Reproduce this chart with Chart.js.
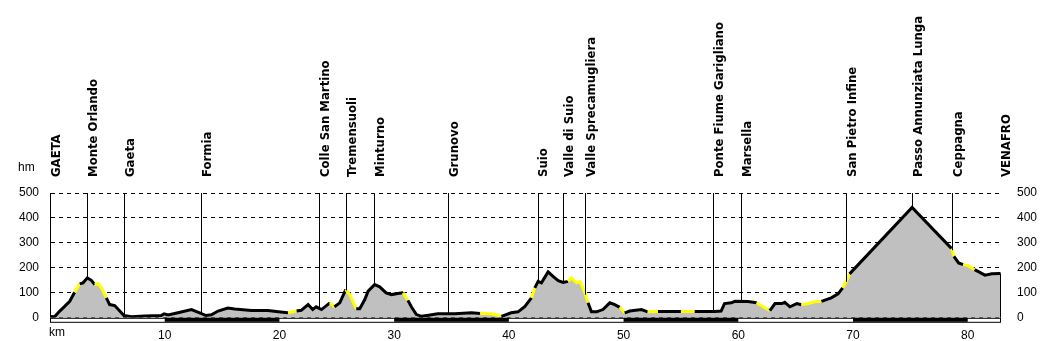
<!DOCTYPE html>
<html>
<head>
<meta charset="utf-8">
<script src="https://cdn.jsdelivr.net/npm/chart.js@4"></script>
<style>
  html, body { margin: 0; padding: 0; background: #fff; }
  #wrap { width: 1050px; height: 341px; }
</style>
</head>
<body>
<div id="wrap"><canvas id="profile" width="1050" height="341"></canvas></div>
<script>
// profile points: distance (km) and altitude (m)
const km = [0.0, 0.4, 0.85, 1.28, 1.72, 2.15, 2.59, 2.88, 3.26, 3.6, 3.9, 4.19, 4.54, 4.91, 5.2, 5.64, 6.08, 6.45,
  7.1, 8.26, 9.7, 9.94, 10.3, 11.16, 12.33, 13.05, 13.6, 14.07, 14.65, 15.5, 16.1, 17.56, 19.0, 19.9, 20.75,
  21.5, 21.9, 22.5, 22.9, 23.2, 23.66, 24.4, 24.8, 25.26, 25.78, 26.13, 26.7, 27.0, 27.44, 27.73, 28.3, 28.74,
  29.3, 29.77, 30.3, 30.78, 31.2, 31.5, 31.94, 32.4, 33.0, 33.8, 35.3, 36.74, 37.5, 38.5, 39.35, 40.2, 40.8,
  41.4, 41.97, 42.26, 42.55, 42.84, 43.42, 43.85, 44.3, 44.73, 45.16, 45.46, 45.9, 46.2, 46.63, 46.9, 47.2,
  47.64, 48.2, 48.8, 49.23, 49.67, 50.1, 50.54, 51.56, 52.1, 53.0, 55.0, 56.2, 57.96, 58.5, 58.8, 59.4, 59.7,
  60.85, 61.6, 62.16, 62.75, 63.2, 63.8, 64.05, 64.5, 65.1, 65.5, 66.1, 66.67, 67.25, 68.1, 68.7, 69.1, 69.4,
  69.7, 75.15, 78.6, 78.8, 79.2, 79.6, 80.03, 80.6, 81.5, 82.1, 82.86];
const alt = [5, 4, 27, 46, 66, 102, 136, 140, 160, 150, 133, 137, 116, 80, 53, 49, 27, 9,
  4, 7, 9, 16, 11, 20, 33, 20, 9, 12, 27, 39, 35, 29, 29, 24, 20,
  27, 30, 53, 33, 44, 33, 60, 44, 60, 113, 93, 36, 36, 73, 107, 133, 124,
  100, 93, 97, 100, 70, 44, 13, 6, 10, 16, 16, 20, 17, 16, 6, 20, 24,
  46, 80, 120, 146, 140, 184, 166, 149, 142, 146, 160, 140, 145, 100, 60, 24,
  24, 33, 60, 53, 42, 20, 27, 33, 24, 25, 25, 25, 25, 27, 57, 60, 66,
  65, 60, 44, 29, 57, 57, 62, 44, 57, 52, 57, 64, 66, 80, 96, 120, 144,
  176, 442, 277, 246, 220, 213, 209, 193, 171, 176, 177];

// steep stretches (km from, km to) drawn yellow
const steepFrom = [2.0, 3.9, 20.6, 24.5, 25.9, 30.7, 37.3, 37.9, 38.5, 41.97, 45.3, 49.67, 51.85, 55.5, 61.7, 65.7, 69.1, 78.6, 79.6];
const steepTo   = [2.6, 5.0, 21.5, 25.0, 26.6, 31.3, 37.6, 38.2, 39.2, 42.4, 47.0, 50.25, 53.0, 56.65, 62.9, 67.25, 69.7, 78.9, 80.6];

// places along the route
const places = ['GAETA', 'Monte Orlando', 'Gaeta', 'Formia', 'Colle San Martino', 'Tremensuoli', 'Minturno',
  'Grunovo', 'Suio', 'Valle di Suio', 'Valle Sprecamugliera', 'Ponte Fiume Garigliano', 'Marsella',
  'San Pietro Infine', 'Passo Annunziata Lunga', 'Ceppagna', 'VENAFRO'];
const placeKm = [0, 3.26, 6.45, 13.17, 23.45, 25.84, 28.25, 34.7, 42.5, 44.73, 46.68, 57.8, 60.24, 69.4, 75.15, 78.64, 82.86];

const xTicks = [0, 10, 20, 30, 40, 50, 60, 70, 80];
const yTicks = [0, 100, 200, 300, 400, 500];

const KM_MAX = 82.9;
const tickFont = { family: 'Liberation Sans, Arial, sans-serif', size: 12 };

function altAt(d) {
  for (let i = 1; i < km.length; i++) {
    if (d <= km[i]) {
      const t = (d - km[i - 1]) / (km[i] - km[i - 1]);
      return alt[i - 1] + t * (alt[i] - alt[i - 1]);
    }
  }
  return alt[alt.length - 1];
}

function isSteep(a, b) {
  const mid = (a + b) / 2;
  for (let i = 0; i < steepFrom.length; i++) {
    if (mid >= steepFrom[i] && mid <= steepTo[i]) return true;
  }
  return false;
}

const points = km.map((d, i) => ({ x: d, y: alt[i] }));

const decor = {
  id: 'decor',
  afterDatasetsDraw(chart) {
    const { ctx, chartArea: a, scales: { x, y } } = chart;
    ctx.save();
    // place lines
    ctx.strokeStyle = '#000';
    ctx.lineWidth = 1;
    for (let i = 1; i < places.length - 1; i++) {
      const px = Math.round(x.getPixelForValue(placeKm[i])) + 0.5;
      ctx.beginPath();
      ctx.moveTo(px, a.top);
      ctx.lineTo(px, y.getPixelForValue(altAt(placeKm[i])));
      ctx.stroke();
    }
    // right edge of the profile
    const rx = Math.round(x.getPixelForValue(km[km.length - 1])) - 0.5;
    ctx.beginPath();
    ctx.moveTo(rx, y.getPixelForValue(alt[alt.length - 1]));
    ctx.lineTo(rx, y.getPixelForValue(0));
    ctx.stroke();

    // km band
    const by = a.bottom;
    const bh = 4;
    ctx.fillStyle = '#fff';
    ctx.fillRect(a.left, by, a.right - a.left, bh);
    ctx.fillStyle = '#000';
    for (let i = 0; i < xTicks.length; i++) {
      if (i % 2 === 1) {
        const x0 = x.getPixelForValue(xTicks[i]);
        const x1 = x.getPixelForValue(Math.min(xTicks[i] + 10, KM_MAX));
        ctx.fillRect(x0, by, x1 - x0, bh);
      }
    }
    ctx.strokeRect(a.left + 0.5, by + 0.5, a.right - a.left - 1, bh);

    // place names
    ctx.fillStyle = '#000';
    ctx.font = 'bold 13px "DejaVu Sans Condensed", "DejaVu Sans", sans-serif';
    ctx.textAlign = 'left';
    ctx.textBaseline = 'top';
    for (let i = 0; i < places.length; i++) {
      const px = x.getPixelForValue(placeKm[i]);
      ctx.save();
      ctx.translate(px, 177);
      ctx.rotate(-Math.PI / 2);
      ctx.fillText(places[i], 0, 0);
      ctx.restore();
    }

    // unit labels
    ctx.font = '12px "Liberation Sans", Arial, sans-serif';
    ctx.textBaseline = 'middle';
    ctx.fillText('hm', 18, 168);
    ctx.fillText('km', 49, 333);
    ctx.restore();
  }
};

const ctx = document.getElementById('profile').getContext('2d');
const profileChart = new Chart(ctx, {
  type: 'line',
  data: {
    datasets: [{
      // outline with steep stretches
      data: points,
      borderColor: '#000',
      borderWidth: 3,
      fill: false,
      pointRadius: 0,
      tension: 0,
      segment: {
        borderColor: c => isSteep(c.p0.parsed.x, c.p1.parsed.x) ? '#ffff00' : '#000'
      }
    }, {
      // grey area under the profile
      data: points,
      borderWidth: 0,
      borderColor: 'rgba(0,0,0,0)',
      backgroundColor: '#c0c0c0',
      fill: 'origin',
      pointRadius: 0,
      tension: 0
    }]
  },
  options: {
    responsive: false,
    animation: false,
    layout: { padding: { top: 193, left: 0, right: 0, bottom: 0 } },
    plugins: { legend: { display: false }, tooltip: { enabled: false } },
    scales: {
      x: {
        type: 'linear',
        min: 0,
        max: KM_MAX,
        afterBuildTicks: s => { s.ticks = xTicks.map(v => ({ value: v })); },
        afterFit: s => { s.height = 23; },
        grid: { display: false },
        border: { display: false },
        ticks: {
          padding: 3,
          maxRotation: 0,
          autoSkip: false,
          color: '#000',
          font: tickFont,
          callback: v => v === 0 ? '' : String(v)
        }
      },
      y: {
        position: 'left',
        min: 0,
        max: 500,
        afterBuildTicks: s => { s.ticks = yTicks.map(v => ({ value: v })); },
        afterFit: s => { s.width = 50; },
        grid: { color: '#000', lineWidth: 1, drawTicks: false },
        border: { display: true, color: '#000', width: 1, dash: [4, 4] },
        ticks: { padding: 11, color: '#000', font: tickFont }
      },
      y2: {
        position: 'right',
        min: 0,
        max: 500,
        afterBuildTicks: s => { s.ticks = yTicks.map(v => ({ value: v })); },
        afterFit: s => { s.width = 49; },
        grid: { display: false, drawTicks: false },
        border: { display: false },
        ticks: { padding: 16, color: '#000', font: tickFont }
      }
    }
  },
  plugins: [decor]
});
</script>
</body>
</html>
